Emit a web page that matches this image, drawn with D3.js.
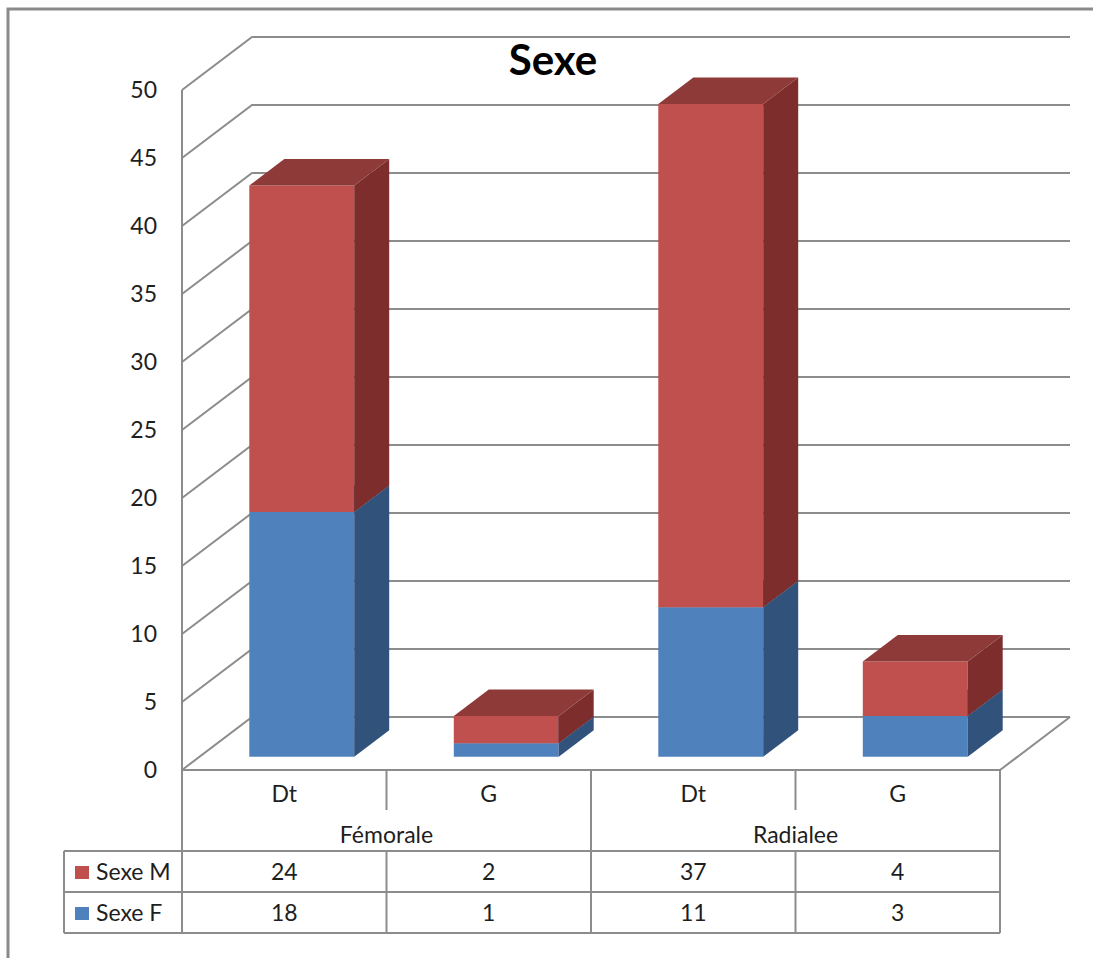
<!DOCTYPE html>
<html>
<head>
<meta charset="utf-8">
<script src="https://cdn.jsdelivr.net/npm/d3@7/dist/d3.min.js"></script>
<style>
  html, body { margin: 0; padding: 0; background: #fff; }
  svg { display: block; font-family: Lato, "Open Sans", sans-serif; }
</style>
</head>
<body>
<svg id="chart" width="1093" height="958"></svg>
<script>
// Data
const sideLabels = ["Dt", "G", "Dt", "G"];
const groupLabels = ["Fémorale", "Radialee"];
const seriesNames = ["Sexe M", "Sexe F"];
const sexeM = [24, 2, 37, 4];
const sexeF = [18, 1, 11, 3];
const yTicks = [0, 5, 10, 15, 20, 25, 30, 35, 40, 45, 50];

const rows = sideLabels.map((s, i) => ({ i, F: sexeF[i], M: sexeM[i] }));
const stack = d3.stack().keys(["F", "M"])(rows);

const svg = d3.select("#chart");

// Frame
svg.append("rect")
  .attr("x", 8).attr("y", 9).attr("width", 1100).attr("height", 1000)
  .attr("fill", "none").attr("stroke", "#8a8a8a").attr("stroke-width", 3);

// 3D projection: front plane scales plus a depth offset vector
const x = d3.scaleBand().domain(d3.range(sideLabels.length)).range([182, 1000]);
const y = d3.scaleLinear().domain([0, 50]).range([770, 90]);
const DX = 70, DY = -53;
const P = (px, v, d) => [px + DX * d, y(v) + DY * d];

const gridColor = "#8c8c8c";
const grid = svg.append("g").attr("stroke", gridColor).attr("stroke-width", 2).attr("fill", "none");

// Left wall vertical edge
grid.append("line")
  .attr("x1", x.range()[0]).attr("x2", x.range()[0])
  .attr("y1", y(50)).attr("y2", y(0));

// Gridlines: wall diagonal + back wall horizontal
yTicks.forEach(t => {
  const a = P(x.range()[0], t, 0), b = P(x.range()[0], t, 1), c = P(x.range()[1], t, 1);
  grid.append("polyline").attr("points", [a, b, c].map(p => p.join(",")).join(" "));
});

// Floor front and right edges
{
  const a = P(x.range()[0], 0, 0), b = P(x.range()[1], 0, 0), c = P(x.range()[1], 0, 1);
  grid.append("polyline").attr("points", [a, b, c].map(p => p.join(",")).join(" "));
}

// Y tick labels
svg.append("g").selectAll("text").data(yTicks).join("text")
  .attr("x", 157).attr("y", d => y(d))
  .attr("dy", "0.36em")
  .attr("text-anchor", "end")
  .attr("font-size", 23).attr("fill", "#1e1e1e")
  .text(d => d);

// Bars
const colors = {
  F: { front: "#4f81bd", side: "#31527a", top: "#3d6596" },
  M: { front: "#c0504d", side: "#7d2e2c", top: "#8e3a38" }
};
const barFrac = 0.513;
const d0 = 0.25, d1 = 0.75;
const bars = svg.append("g");
const poly = pts => pts.map(p => p.join(",")).join(" ");

rows.forEach((r, i) => {
  const bw = x.bandwidth() * barFrac;
  const xl = x(i) + (x.bandwidth() - bw) / 2;
  const xr = xl + bw;
  stack.forEach(layer => {
    const [v0, v1] = layer[i];
    const c = colors[layer.key];
    // front
    bars.append("polygon").attr("fill", c.front)
      .attr("points", poly([P(xl, v0, d0), P(xr, v0, d0), P(xr, v1, d0), P(xl, v1, d0)]));
    // side
    bars.append("polygon").attr("fill", c.side)
      .attr("points", poly([P(xr, v0, d0), P(xr, v0, d1), P(xr, v1, d1), P(xr, v1, d0)]));
    // top
    bars.append("polygon").attr("fill", c.top)
      .attr("points", poly([P(xl, v1, d0), P(xr, v1, d0), P(xr, v1, d1), P(xl, v1, d1)]));
  });
});

// Title
svg.append("text")
  .attr("x", 553).attr("y", 75)
  .attr("text-anchor", "middle")
  .attr("font-size", 42).attr("font-weight", "bold").attr("fill", "#000")
  .text("Sexe");

// Data table
const tbl = svg.append("g").attr("stroke", gridColor).attr("stroke-width", 2).attr("fill", "none");
const tTop = 770, tHead = 851, tRow1 = 892, tBot = 933, legX = 64;
const X0 = x.range()[0], X1 = x.range()[1];
const line = (x1, y1, x2, y2) => tbl.append("line").attr("x1", x1).attr("y1", y1).attr("x2", x2).attr("y2", y2);

line(X0, tTop, X0, tBot);
line(X1, tTop, X1, tBot);
[tHead, tRow1, tBot].forEach(yy => line(legX, yy, X1, yy));
line(legX, tHead, legX, tBot);
d3.range(1, sideLabels.length).forEach(i => {
  const xx = x(i);
  if (i % 2 === 0) {
    line(xx, tTop, xx, tBot);
  } else {
    line(xx, tTop, xx, 810);
    line(xx, tHead, xx, tBot);
  }
});

const txt = svg.append("g").attr("font-size", 23).attr("fill", "#1e1e1e").attr("text-anchor", "middle");
sideLabels.forEach((s, i) => {
  txt.append("text").attr("x", x(i) + x.bandwidth() / 2).attr("y", 802).text(s);
  txt.append("text").attr("x", x(i) + x.bandwidth() / 2).attr("y", 880).text(sexeM[i]);
  txt.append("text").attr("x", x(i) + x.bandwidth() / 2).attr("y", 921).text(sexeF[i]);
});
groupLabels.forEach((g, k) => {
  txt.append("text").attr("x", x(k * 2) + x.bandwidth()).attr("y", 843).text(g);
});

// Legend keys in row headers
const legendColors = [colors.M.front, colors.F.front];
const rowBase = [880, 921];
seriesNames.forEach((n, k) => {
  svg.append("rect")
    .attr("x", 75).attr("y", rowBase[k] - 14).attr("width", 14).attr("height", 13)
    .attr("fill", legendColors[k]);
  svg.append("text")
    .attr("x", 96).attr("y", rowBase[k])
    .attr("font-size", 23).attr("fill", "#1e1e1e")
    .text(n);
});
</script>
</body>
</html>
